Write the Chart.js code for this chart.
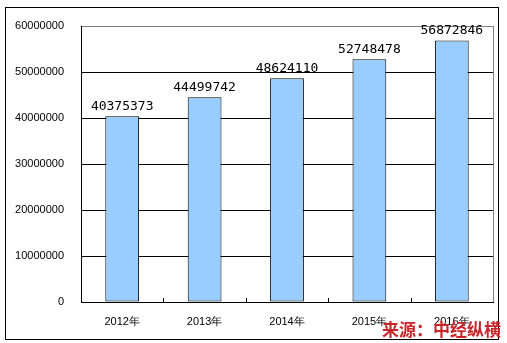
<!DOCTYPE html>
<html>
<head>
<meta charset="utf-8">
<script src="https://cdn.jsdelivr.net/npm/chart.js@4/dist/chart.umd.min.js"></script>
<style>
  html, body { margin: 0; padding: 0; background: #fff; }
  #wrap { width: 507px; height: 343px; }
</style>
</head>
<body>
<div id="wrap"><canvas id="myChart"></canvas></div>
<script>
const years = ['2012年', '2013年', '2014年', '2015年', '2016年'];
const values = [40375373, 44499742, 48624110, 52748478, 56872846];
const yTicks = [0, 10000000, 20000000, 30000000, 40000000, 50000000, 60000000];
const sourceText = '来源：中经纵横';

// frame, value labels, inner ticks and source note
const decorPlugin = {
    id: 'decor',
    beforeDraw(chart) {
        const ctx = chart.ctx;
        ctx.save();
        ctx.fillStyle = '#fff';
        ctx.fillRect(0, 0, chart.width, chart.height);
        ctx.restore();
    },
    afterDraw(chart) {
        const ctx = chart.ctx;
        const area = chart.chartArea;
        const x = chart.scales.x;
        ctx.save();

        // right edge of plot, gray
        ctx.strokeStyle = '#808080';
        ctx.lineWidth = 1;
        ctx.beginPath();
        ctx.moveTo(Math.round(area.right) + 0.5, area.top);
        ctx.lineTo(Math.round(area.right) + 0.5, area.bottom);
        ctx.stroke();

        // small ticks between categories, pointing up
        ctx.strokeStyle = '#000';
        for (let i = 0; i < years.length - 1; i++) {
            const px = Math.round((x.getPixelForTick(i) + x.getPixelForTick(i + 1)) / 2) + 0.5;
            ctx.beginPath();
            ctx.moveTo(px, area.bottom);
            ctx.lineTo(px, area.bottom - 4);
            ctx.stroke();
        }

        // value labels
        const meta = chart.getDatasetMeta(0);
        ctx.fillStyle = '#000';
        ctx.font = '13px "DejaVu Sans Mono", monospace';
        ctx.textAlign = 'center';
        ctx.textBaseline = 'alphabetic';
        meta.data.forEach((bar, i) => {
            ctx.fillText(String(values[i]), bar.x, bar.y - 6);
        });

        // outer frame
        ctx.strokeStyle = '#000';
        ctx.strokeRect(5.5, 7.5, 493, 332);

        // source note
        ctx.fillStyle = '#c8262b';
        ctx.font = 'bold 17px "Noto Sans CJK SC", sans-serif';
        ctx.textAlign = 'right';
        ctx.textBaseline = 'middle';
        ctx.fillText(sourceText, 501, 330);

        ctx.restore();
    }
};

const ctx = document.getElementById('myChart').getContext('2d');
new Chart(ctx, {
    type: 'bar',
    data: {
        labels: years,
        datasets: [{
            data: values,
            backgroundColor: '#99ccff',
            borderColor: '#000',
            borderWidth: 1,
            borderSkipped: false,
            categoryPercentage: 1,
            barPercentage: 0.41
        }]
    },
    options: {
        responsive: true,
        maintainAspectRatio: false,
        animation: false,
        devicePixelRatio: 1,
        layout: { padding: { left: 0, top: 26, right: 14, bottom: 0 } },
        plugins: {
            legend: { display: false },
            tooltip: { enabled: false }
        },
        scales: {
            x: {
                offset: true,
                grid: { display: false },
                border: { display: true, color: '#000', width: 1 },
                ticks: {
                    color: '#000',
                    font: { family: 'Liberation Sans, Arial, sans-serif', size: 11 },
                    padding: 5,
                    maxRotation: 0
                },
                afterFit(scale) { scale.height = 41; }
            },
            y: {
                min: 0,
                max: 60000000,
                afterBuildTicks(scale) { scale.ticks = yTicks.map(v => ({ value: v })); },
                grid: {
                    drawTicks: false,
                    color: (c) => c.tick && c.tick.value === 60000000 ? '#808080' : '#000'
                },
                border: { display: true, color: '#000', width: 1 },
                ticks: {
                    color: '#000',
                    font: { family: 'Liberation Sans, Arial, sans-serif', size: 11 },
                    padding: 17,
                    callback: (v) => String(v)
                },
                afterFit(scale) { scale.width = 81; }
            }
        }
    },
    plugins: [decorPlugin]
});
</script>
</body>
</html>
